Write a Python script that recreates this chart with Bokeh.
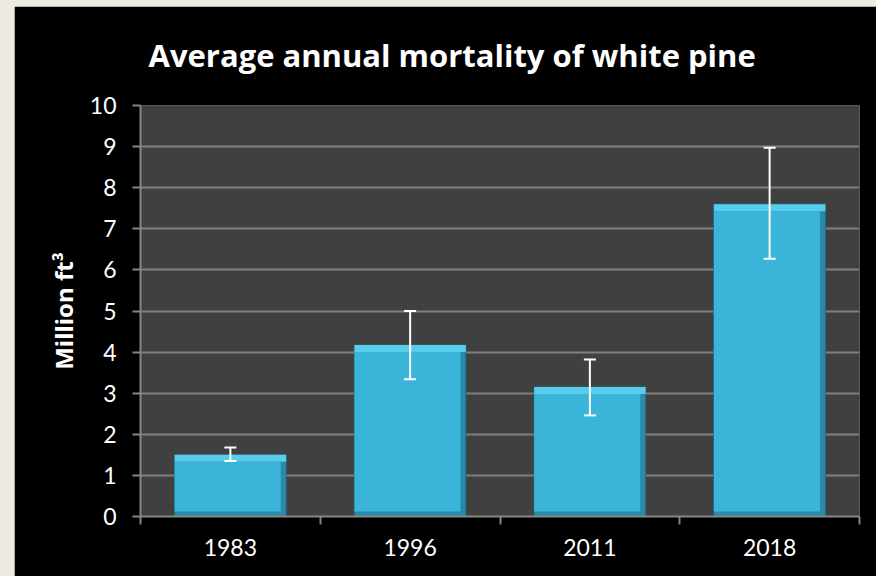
import numpy as np
from bokeh.plotting import figure
from bokeh.layouts import column
from bokeh.models import FixedTicker, Whisker, TeeHead, ColumnDataSource, Range1d
from bokeh.embed import file_html
from bokeh.resources import INLINE

# ---- data ----
years = ["1983", "1996", "2011", "2018"]
mortality = [1.5, 4.17, 3.15, 7.6]
err_lower = [1.35, 3.34, 2.46, 6.27]
err_upper = [1.68, 5.0, 3.82, 8.97]
y_ticks = [0, 1, 2, 3, 4, 5, 6, 7, 8, 9, 10]
title_text = "Average annual mortality of white pine"
y_title = "Million ft³"

FONT = "Lato"
TFONT = "Open Sans"
x = np.arange(len(years)) + 0.5
vals = np.array(mortality)
bw = 0.62

src = ColumnDataSource(dict(
    x=x, top=vals,
    bevel_bottom=vals - 0.17,
    face_top=vals - 0.17,
    face_left=x - bw / 2, face_right=x + bw / 2 - 0.03,
    lower=err_lower, upper=err_upper,
))

p = figure(width=862, height=570, output_backend="svg", toolbar_location=None,
           x_range=Range1d(0, len(years)), y_range=Range1d(y_ticks[0], y_ticks[-1]),
           min_border_left=126, min_border_right=17, min_border_top=99, min_border_bottom=60)
p.margin = (6, 0, 0, 14)

p.background_fill_color = "#404040"
p.border_fill_color = "#000000"
p.outline_line_color = None

# title
p.title.text = title_text
p.title.text_color = "white"
p.title.text_font = TFONT
p.title.text_font_size = "31px"
p.title.text_font_style = "bold"
p.title.align = "left"
p.title.offset = 8
p.title.vertical_align = "top"
p.title.standoff = 55

# bars (bevel look)
p.vbar(x="x", top="top", bottom=0, width=bw, source=src, fill_color="#2A8AAB", line_color="#1E6F8A", line_width=1)
p.vbar(x="x", top="top", bottom="bevel_bottom", width=bw, source=src, fill_color="#58CCEA", line_color=None)
p.quad(left="face_left", right="face_right", top="face_top", bottom=0.12, source=src,
       fill_color="#3AB4D8", line_color=None)

# error bars
wh = Whisker(source=src, base="x", upper="upper", lower="lower", line_color="white", line_width=2,
             upper_head=TeeHead(size=12, line_color="white", line_width=2),
             lower_head=TeeHead(size=12, line_color="white", line_width=2), level="overlay")
p.add_layout(wh)

# grid
p.xgrid.grid_line_color = None
p.ygrid.grid_line_color = "#808080"
p.ygrid.grid_line_width = 2

# y axis
p.yaxis.ticker = FixedTicker(ticks=y_ticks, minor_ticks=[])
p.yaxis.axis_line_color = "#868686"
p.yaxis.axis_line_width = 2
p.yaxis.major_tick_line_color = "#868686"
p.yaxis.major_tick_line_width = 2
p.yaxis.major_tick_out = 8
p.yaxis.major_tick_in = 0
p.yaxis.major_label_text_color = "white"
p.yaxis.major_label_text_font = FONT
p.yaxis.major_label_text_font_size = "23px"
p.yaxis.major_label_standoff = 16
p.yaxis.axis_label = y_title
p.yaxis.axis_label_text_color = "white"
p.yaxis.axis_label_text_font = TFONT
p.yaxis.axis_label_text_font_size = "24px"
p.yaxis.axis_label_text_font_style = "bold"
p.yaxis.axis_label_standoff = 7

# x axis: labels at centres, tick marks at boundaries
xaxis = p.below[0]
xaxis.ticker = FixedTicker(ticks=list(x), minor_ticks=list(range(len(years) + 1)))
xaxis.major_label_overrides = {float(xx): yr for xx, yr in zip(x, years)}
xaxis.axis_line_color = "#868686"
xaxis.axis_line_width = 2
xaxis.major_tick_out = 0
xaxis.major_tick_in = 0
xaxis.minor_tick_line_color = "#868686"
xaxis.minor_tick_line_width = 2
xaxis.minor_tick_out = 8
xaxis.minor_tick_in = 0
xaxis.major_label_text_color = "white"
xaxis.major_label_text_font = FONT
xaxis.major_label_text_font_size = "23px"
xaxis.major_label_standoff = 14

layout = column(p, styles={"background-color": "#EDEAE1"})

open("out.html", "w").write(file_html(layout, INLINE))
